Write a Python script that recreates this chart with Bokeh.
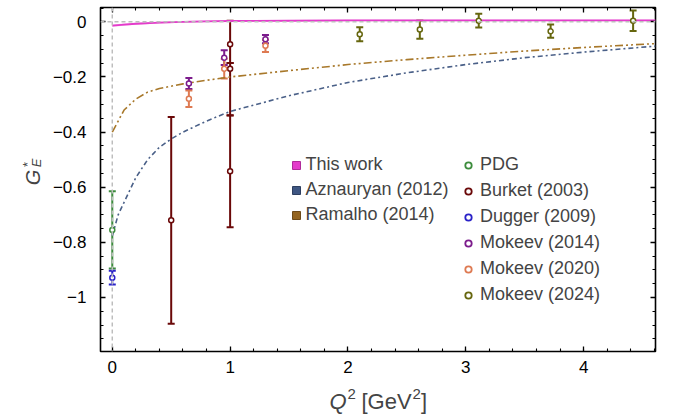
import numpy as np
from bokeh.plotting import figure
from bokeh.layouts import row, column
from bokeh.models import (Range1d, FixedTicker, LinearAxis, Whisker, TeeHead, ColumnDataSource,
                          Legend, LegendItem, Label, Span)
from bokeh.embed import file_html
from bokeh.resources import INLINE

# ---------------- data ----------------
this_q2 = [0.0, 0.1, 0.2, 0.4, 0.6, 0.8, 1.0, 1.5, 2.0, 3.0, 4.0, 4.61]
this_ge = [-0.014, -0.010, -0.007, -0.003, 0.0, 0.002, 0.003, 0.004, 0.005, 0.005, 0.005, 0.005]
this_err = [0.004, 0.004, 0.004, 0.003, 0.003, 0.003, 0.003, 0.003, 0.003, 0.003, 0.003, 0.003]

azn_q2 = [0.0, 0.05, 0.1, 0.2, 0.3, 0.4, 0.5, 0.6, 0.8, 1.0, 1.5, 2.0, 2.5, 3.0, 3.5, 4.0, 4.61]
azn_ge = [-0.776, -0.70, -0.655, -0.565, -0.50, -0.455, -0.425, -0.40, -0.36, -0.325, -0.268,
          -0.22, -0.185, -0.155, -0.13, -0.11, -0.088]

ram_q2 = [0.0, 0.05, 0.1, 0.2, 0.3, 0.4, 0.6, 0.8, 1.0, 1.5, 2.0, 2.5, 3.0, 3.5, 4.0, 4.61]
ram_ge = [-0.40, -0.36, -0.32, -0.28, -0.255, -0.242, -0.225, -0.212, -0.20, -0.177, -0.155,
          -0.137, -0.121, -0.106, -0.093, -0.079]

pdg_q2, pdg_ge, pdg_err = [0.0], [-0.755], [0.14]
dug_q2, dug_ge, dug_err = [0.0], [-0.928], [0.025]
bur_q2 = [0.5, 1.0, 1.0, 1.0]
bur_ge = [-0.72, -0.081, -0.17, -0.542]
bur_up = [0.375, 0.085, 0.021, 0.203]
bur_dn = [0.375, 0.068, 0.17, 0.203]
m14_q2, m14_ge, m14_err = [0.65, 0.95, 1.3], [-0.224, -0.130, -0.063], [0.02, 0.027, 0.015]
m20_q2, m20_ge, m20_err = [0.65, 0.95, 1.3], [-0.279, -0.170, -0.087], [0.03, 0.036, 0.022]
m24_q2 = [2.1, 2.61, 3.11, 3.72, 4.42]
m24_ge = [-0.045, -0.028, 0.004, -0.034, 0.004]
m24_err = [0.025, 0.033, 0.025, 0.024, 0.037]

x_ticks = [0, 1, 2, 3, 4]
y_ticks = [-1.0, -0.8, -0.6, -0.4, -0.2, 0.0]
y_tick_labels = ["\u22121", "\u22120.8", "\u22120.6", "\u22120.4", "\u22120.2", "0"]

# ---------------- colors ----------------
C_THIS = "#E43CCB"
C_AZN = "#4A6088"
C_RAM = "#A8782A"
C_PDG = "#3C8C3C"
C_BUR = "#6A0808"
C_DUG = "#2A22C8"
C_M14 = "#7C1C8C"
C_M20 = "#DE7A52"
C_M24 = "#66660E"
FONT = "Liberation Sans"

YLAB_W = 45
MAIN_H = 380
TOP = 7
FRAME_H = 344
BOTTOM = MAIN_H - TOP - FRAME_H

p = figure(width=673 - YLAB_W, height=MAIN_H, output_backend="svg", toolbar_location=None,
           x_range=Range1d(-0.1, 4.61), y_range=Range1d(-1.196, 0.052),
           min_border_left=100 - YLAB_W, min_border_right=18, min_border_top=TOP,
           min_border_bottom=BOTTOM,
           x_axis_location=None, y_axis_location=None)
p.grid.visible = False
p.outline_line_color = "black"
p.outline_line_width = 1.6
p.background_fill_color = "white"
p.border_fill_color = "white"

minor_x = [round(v, 2) for v in np.arange(-0.0, 4.61, 0.2)]
minor_y = [round(v, 3) for v in np.arange(-1.2, 0.051, 0.05)]

def mk_axis(kind, loc, labels):
    ax = LinearAxis()
    if kind == "x":
        ax.ticker = FixedTicker(ticks=x_ticks, minor_ticks=minor_x)
    else:
        ax.ticker = FixedTicker(ticks=y_ticks, minor_ticks=minor_y)
        ax.major_label_overrides = {t: l for t, l in zip(y_ticks, y_tick_labels)}
    ax.axis_line_color = None
    ax.major_tick_in = 5
    ax.major_tick_out = 0
    ax.minor_tick_in = 3
    ax.minor_tick_out = 0
    ax.major_tick_line_width = 1.3
    ax.minor_tick_line_width = 1.1
    ax.major_tick_line_color = "black"
    ax.minor_tick_line_color = "black"
    if labels:
        ax.major_label_text_font = FONT
        ax.major_label_text_font_size = "17px"
        ax.major_label_text_color = "black"
        ax.major_label_standoff = 14 if kind == "y" else 9
    else:
        ax.major_label_text_font_size = "1px"
        ax.major_label_text_color = None
        ax.major_label_standoff = 0
    p.add_layout(ax, loc)

mk_axis("x", "below", True)
mk_axis("x", "above", False)
mk_axis("y", "left", True)
mk_axis("y", "right", False)

# reference lines
p.add_layout(Span(location=0, dimension="width", line_color="#BDBDBD", line_width=1.5, line_dash="4 3"))
p.add_layout(Span(location=0, dimension="height", line_color="#BDBDBD", line_width=1.5, line_dash="4 3"))

# curves
p.line(ram_q2, ram_ge, line_color=C_RAM, line_width=1.6, line_dash="8 3 2 3 2 3")
p.line(azn_q2, azn_ge, line_color=C_AZN, line_width=1.6, line_dash="5 3 2 3")
lo = [a - b for a, b in zip(this_ge, this_err)]
hi = [a + b for a, b in zip(this_ge, this_err)]
p.varea(x=this_q2, y1=lo, y2=hi, fill_color="#F2A6E6", fill_alpha=0.8)
p.line(this_q2, this_ge, line_color=C_THIS, line_width=1.8)

def points(xs, ys, up, dn, color):
    src = ColumnDataSource(dict(x=xs, y=ys, upper=[a + b for a, b in zip(ys, up)],
                                lower=[a - b for a, b in zip(ys, dn)]))
    w = Whisker(base="x", upper="upper", lower="lower", source=src, line_color=color, line_width=2,
                upper_head=TeeHead(size=7, line_color=color, line_width=2),
                lower_head=TeeHead(size=7, line_color=color, line_width=2))
    p.add_layout(w)
    p.scatter("x", "y", source=src, marker="circle", size=5, fill_color="white",
              line_color=color, line_width=1.5)

points(pdg_q2, pdg_ge, pdg_err, pdg_err, C_PDG)
points(dug_q2, dug_ge, dug_err, dug_err, C_DUG)
points(bur_q2, bur_ge, bur_up, bur_dn, C_BUR)
points(m14_q2, m14_ge, m14_err, m14_err, C_M14)
points(m20_q2, m20_ge, m20_err, m20_err, C_M20)
points(m24_q2, m24_ge, m24_err, m24_err, C_M24)

# legends (renderers with no visible points, used only for their legend glyphs)
NAN = [float("nan")]

def dummy_sq(fill, line):
    return p.scatter(x=NAN, y=NAN, marker="square", fill_color=fill, line_color=line, line_width=1)

def dummy_c(color):
    return p.scatter(x=NAN, y=NAN, marker="circle", fill_color="white", line_color=color, line_width=1.8)

leg1 = Legend(items=[LegendItem(label="This work", renderers=[dummy_sq(C_THIS, "#B02A9A")]),
                     LegendItem(label="Aznauryan (2012)", renderers=[dummy_sq("#3E5682", "#2E3F60")]),
                     LegendItem(label="Ramalho (2014)", renderers=[dummy_sq("#946420", "#6E4A18")])],
              location=(185.5, 126), glyph_width=20, glyph_height=20, label_height=20,
              label_standoff=0, spacing=4, padding=0, margin=0,
              border_line_color=None, background_fill_alpha=0,
              label_text_font=FONT, label_text_font_size="18px")
leg2 = Legend(items=[LegendItem(label="PDG", renderers=[dummy_c(C_PDG)]),
                     LegendItem(label="Burket (2003)", renderers=[dummy_c(C_BUR)]),
                     LegendItem(label="Dugger (2009)", renderers=[dummy_c(C_DUG)]),
                     LegendItem(label="Mokeev (2014)", renderers=[dummy_c(C_M14)]),
                     LegendItem(label="Mokeev (2020)", renderers=[dummy_c(C_M20)]),
                     LegendItem(label="Mokeev (2024)", renderers=[dummy_c(C_M24)])],
              location=(360, 46), glyph_width=16, glyph_height=20, label_height=20,
              label_standoff=4, spacing=5, padding=0, margin=0,
              border_line_color=None, background_fill_alpha=0,
              label_text_font=FONT, label_text_font_size="18px")
p.add_layout(leg1)
p.add_layout(leg2)

# ---------- axis titles in their own strips ----------
def strip(w, h, top=0, bottom=0):
    f = figure(width=w, height=h, output_backend="svg", toolbar_location=None,
               x_range=Range1d(0, 1), y_range=Range1d(0, 1),
               min_border_left=0, min_border_right=0, min_border_top=top, min_border_bottom=bottom,
               x_axis_location=None, y_axis_location=None)
    f.grid.visible = False
    f.outline_line_color = None
    f.background_fill_color = "white"
    f.border_fill_color = "white"
    return f

# left strip: its frame lines up with the main frame (rows in y from 7 to 351)
ylab = strip(YLAB_W, MAIN_H, TOP, BOTTOM)
ang = np.pi / 2
FRAME_BOTTOM = TOP + FRAME_H

def ytxt(cx, cy, text, size, italic):
    ylab.add_layout(Label(x=cx, y=FRAME_BOTTOM - cy, x_units="screen", y_units="screen", text=text,
                          angle=ang, text_font=FONT, text_font_size=size,
                          text_font_style="italic" if italic else "normal",
                          text_align="center", text_baseline="middle"))

ytxt(32, 177, "G", "20px", True)
ytxt(27, 164, "*", "13px", False)
ytxt(36, 162.5, "E", "13px", True)

XLAB_H = 415 - MAIN_H
xlab = strip(673, XLAB_H)
bl = 415 - 401

def xtxt(x, dy, text, size, italic):
    xlab.add_layout(Label(x=x, y=bl + dy, x_units="screen", y_units="screen", text=text,
                          text_font=FONT, text_font_size=size,
                          text_font_style="italic" if italic else "normal",
                          text_align="left", text_baseline="alphabetic"))

xtxt(329, 0, "Q", "22px", True)
xtxt(347, 8, "2", "15px", False)
xtxt(361, 0, "[GeV", "22px", False)
xtxt(412, 8, "2", "15px", False)
xtxt(420.5, 0, "]", "22px", False)

layout = column(row(ylab, p, spacing=0), xlab, spacing=0)
open("out.html", "w").write(file_html(layout, INLINE))
